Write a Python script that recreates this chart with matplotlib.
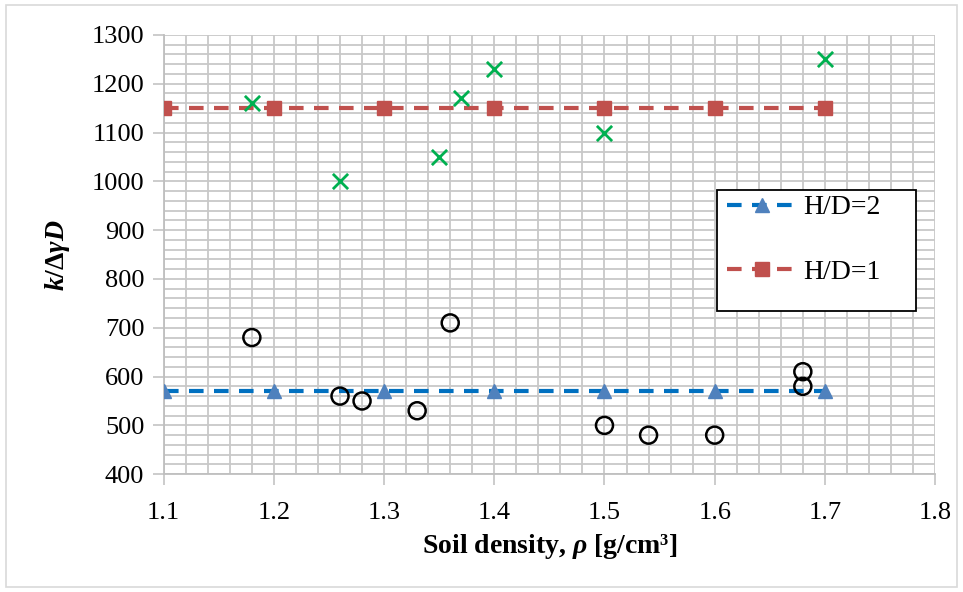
import matplotlib
matplotlib.use("Agg")
import matplotlib.pyplot as plt
from matplotlib.patches import Rectangle
from matplotlib.ticker import MultipleLocator, FormatStrFormatter

plt.rcParams["font.family"] = ["Liberation Serif", "DejaVu Serif"]
plt.rcParams["mathtext.fontset"] = "custom"
plt.rcParams["mathtext.it"] = "Liberation Serif:italic:bold"
plt.rcParams["mathtext.rm"] = "Liberation Serif:bold"

# measured points
cross_x = [1.18, 1.26, 1.35, 1.37, 1.40, 1.50, 1.70]
cross_y = [1160, 1000, 1050, 1170, 1230, 1100, 1250]
circle_x = [1.18, 1.26, 1.28, 1.33, 1.36, 1.50, 1.54, 1.60, 1.68, 1.68]
circle_y = [680, 560, 550, 530, 710, 500, 480, 480, 610, 580]

# fitted constants
line_x = [1.1, 1.2, 1.3, 1.4, 1.5, 1.6, 1.7]
hd2_y = [570] * 7
hd1_y = [1150] * 7

fig = plt.figure(figsize=(9.63, 5.92), dpi=100)
ax = fig.add_axes([0.170, 0.199, 0.801, 0.742])

ax.plot(line_x, hd2_y, color="#0070C0", linestyle=(0, (3.5, 2.5)), linewidth=3,
        marker="^", markersize=10, markerfacecolor="#4F81BD", markeredgecolor="#4F81BD",
        label="H/D=2", zorder=3)
ax.plot(line_x, hd1_y, color="#C0504D", linestyle=(0, (3.5, 2.5)), linewidth=3,
        marker="s", markersize=10, markerfacecolor="#C0504D", markeredgecolor="#C0504D",
        label="H/D=1", zorder=3)
ax.scatter(cross_x, cross_y, marker="x", s=120, color="#00B050", linewidths=2, zorder=4)
ax.scatter(circle_x, circle_y, marker="o", s=150, facecolors="none", edgecolors="black",
           linewidths=1.8, zorder=4)

ax.set_xlim(1.1, 1.8)
ax.set_ylim(400, 1300)
ax.xaxis.set_major_locator(MultipleLocator(0.1))
ax.xaxis.set_minor_locator(MultipleLocator(0.02))
ax.yaxis.set_major_locator(MultipleLocator(100))
ax.yaxis.set_minor_locator(MultipleLocator(20))
ax.xaxis.set_major_formatter(FormatStrFormatter("%.1f"))
ax.grid(which="both", color="#C8C8C8", linewidth=1.3)
ax.set_axisbelow(True)
ax.tick_params(which="minor", length=0)
ax.tick_params(which="major", length=8, color="#C8C8C8", width=1.3, labelsize=19, pad=6)
ax.tick_params(axis="x", which="major", pad=12)
for side in ["top", "right"]:
    ax.spines[side].set_visible(False)
for side in ["left", "bottom"]:
    ax.spines[side].set_color("#BFBFBF")
    ax.spines[side].set_linewidth(1.3)

ax.set_xlabel("Soil density, $\\rho$ [g/cm³]", fontsize=20, fontweight="bold", labelpad=6)
ax.set_ylabel("$k$/Δ$\\gamma D$", fontsize=20, fontweight="bold", labelpad=14)

# legend box is taller than the entries, so draw the frame separately
frame = Rectangle((717 / 963, 1 - 311 / 592), 199 / 963, 121 / 592,
                  transform=fig.transFigure, facecolor="white", edgecolor="black",
                  linewidth=1.3, zorder=6, clip_on=False)
ax.add_patch(frame)
leg = ax.legend(loc="upper left", bbox_to_anchor=(727 / 963, 1 - 195 / 592),
                bbox_transform=fig.transFigure, fontsize=20, frameon=False,
                labelspacing=1.4, handlelength=2.5, borderpad=0, borderaxespad=0,
                handletextpad=0.25)
leg.set_zorder(7)

fig.patches.append(Rectangle((0.006, 0.008), 0.988, 0.984, transform=fig.transFigure,
                             fill=False, edgecolor="#D9D9D9", linewidth=1.2))

fig.savefig("out.png", dpi=100)
